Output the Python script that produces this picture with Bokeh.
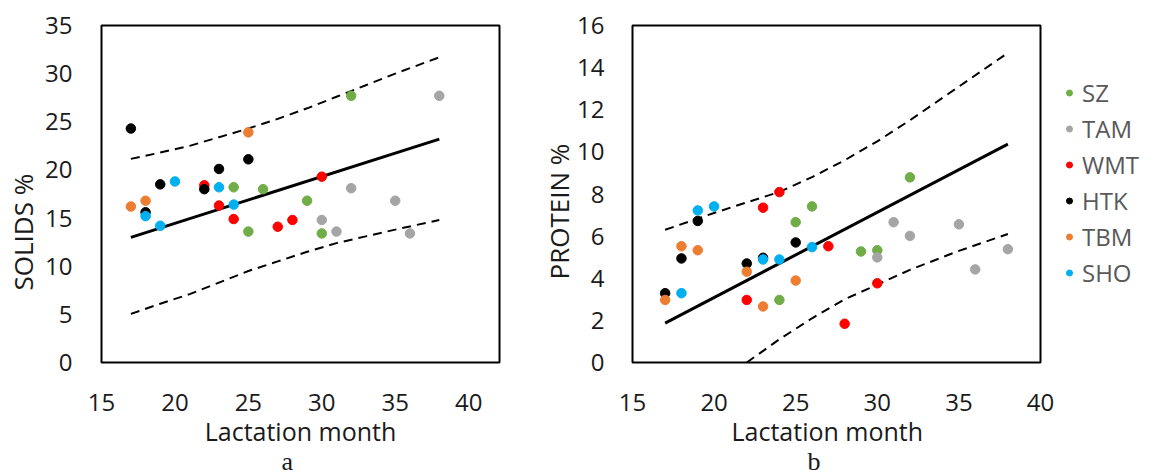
from bokeh.plotting import figure
from bokeh.layouts import row
from bokeh.models import Title, Legend, LegendItem, Range1d, FixedTicker, ColumnDataSource
from bokeh.embed import file_html
from bokeh.resources import INLINE

# ---------------- data ----------------
series = ["SZ", "TAM", "WMT", "HTK", "TBM", "SHO"]
series_colors = ["#70AD47", "#A5A5A5", "#FF0000", "#000000", "#ED7D31", "#00B0F0"]

month_ticks = [15, 20, 25, 30, 35, 40]
solids_ticks = [0, 5, 10, 15, 20, 25, 30, 35]
protein_ticks = [0, 2, 4, 6, 8, 10, 12, 14, 16]

# Panel a: SOLIDS %
months_a = {
    "SZ":  [24, 25, 26, 29, 30, 32],
    "TAM": [30, 31, 32, 35, 36, 38],
    "WMT": [22, 23, 24, 27, 28, 30],
    "HTK": [17, 18, 19, 22, 23, 25],
    "TBM": [17, 18, 25],
    "SHO": [18, 19, 20, 23, 24],
}
solids = {
    "SZ":  [18.2, 13.6, 18.0, 16.8, 13.4, 27.7],
    "TAM": [14.8, 13.6, 18.1, 16.8, 13.4, 27.7],
    "WMT": [18.4, 16.3, 14.9, 14.1, 14.8, 19.3],
    "HTK": [24.3, 15.6, 18.5, 18.0, 20.1, 21.1],
    "TBM": [16.2, 16.8, 23.9],
    "SHO": [15.2, 14.2, 18.8, 18.2, 16.4],
}
fit_x = [17, 38]
solids_fit = [13.0, 23.2]
band_x_a = [17, 19, 21, 23, 25, 27, 29, 31, 33, 35, 38]
solids_upper = [21.15, 21.8, 22.5, 23.4, 24.3, 25.3, 26.4, 27.6, 28.8, 30.0, 31.7]
solids_lower = [5.05, 6.1, 7.1, 8.3, 9.5, 10.5, 11.5, 12.4, 13.1, 13.8, 14.8]

# Panel b: PROTEIN %
months_b = {
    "SZ":  [24, 25, 26, 29, 30, 32],
    "TAM": [30, 31, 32, 35, 36, 38],
    "WMT": [22, 23, 24, 27, 28, 30],
    "HTK": [17, 18, 19, 22, 23, 25],
    "TBM": [17, 18, 19, 22, 23, 25],
    "SHO": [18, 19, 20, 23, 24, 26],
}
protein = {
    "SZ":  [2.97, 6.66, 7.41, 5.27, 5.33, 8.79],
    "TAM": [4.99, 6.66, 6.01, 6.56, 4.42, 5.38],
    "WMT": [2.97, 7.35, 8.09, 5.52, 1.84, 3.76],
    "HTK": [3.29, 4.94, 6.72, 4.70, 4.97, 5.70],
    "TBM": [2.97, 5.52, 5.33, 4.31, 2.66, 3.89],
    "SHO": [3.29, 7.22, 7.41, 4.89, 4.89, 5.48],
}
protein_fit = [1.87, 10.37]
upper_x_b = [17, 20, 22, 24, 26, 28, 30, 32, 35, 38]
protein_upper = [6.3, 7.1, 7.6, 8.1, 8.8, 9.6, 10.5, 11.5, 13.1, 14.7]
lower_x_b = [22, 24, 26, 28, 30, 32, 35, 38]
protein_lower = [0.0, 1.1, 2.1, 3.0, 3.7, 4.4, 5.3, 6.1]

FONT = "Open Sans"
TXT = "#1a1a1a"


def make_fig(width, xr, yr, yticks, mbl, mbr, mbt, mbb, ystandoff):
    p = figure(width=width, height=474, x_range=Range1d(*xr), y_range=Range1d(*yr),
               output_backend="svg", toolbar_location=None,
               min_border_left=mbl, min_border_right=mbr,
               min_border_top=mbt, min_border_bottom=mbb)
    p.xgrid.visible = False
    p.ygrid.visible = False
    p.outline_line_color = "black"
    p.outline_line_width = 2
    p.outline_line_alpha = 1
    p.background_fill_color = "white"
    p.border_fill_color = "white"
    for ax in (p.xaxis[0], p.yaxis[0]):
        ax.axis_line_color = None
        ax.major_tick_line_color = None
        ax.minor_tick_line_color = None
        ax.major_tick_in = 0
        ax.major_tick_out = 0
        ax.minor_tick_in = 0
        ax.minor_tick_out = 0
        ax.major_label_text_font = FONT
        ax.major_label_text_font_size = "24px"
        ax.major_label_text_color = TXT
    p.xaxis[0].ticker = FixedTicker(ticks=month_ticks)
    p.yaxis[0].ticker = FixedTicker(ticks=yticks)
    p.xaxis[0].major_label_standoff = 31
    p.yaxis[0].major_label_standoff = ystandoff
    return p


def add_titles(p, ytext, yoffset, ystandoff, xalign, xoffset, cap, capoffset):
    p.add_layout(Title(text=ytext, align="left", offset=yoffset, text_font=FONT,
                       text_font_size="26px", text_font_style="normal",
                       text_color=TXT, standoff=ystandoff), "left")
    p.add_layout(Title(text="Lactation month", align=xalign, offset=xoffset,
                       text_font=FONT, text_font_size="25px", text_font_style="normal",
                       text_color=TXT, standoff=-4), "below")
    p.add_layout(Title(text=cap, align="left", offset=capoffset,
                       text_font="Liberation Serif", text_font_size="26px",
                       text_font_style="normal", text_color=TXT, standoff=-2), "below")


# ---------------- panel a ----------------
pa = make_fig(540, (15, 42.1), (0, 35), solids_ticks, 101, 41, 25, 112, 29)
pa.line(fit_x, solids_fit, line_color="black", line_width=3)
pa.line(band_x_a, solids_upper, line_color="black", line_width=2, line_dash="9 6")
pa.line(band_x_a, solids_lower, line_color="black", line_width=2, line_dash="9 6")
for s, c in zip(series, series_colors):
    src = ColumnDataSource(dict(x=months_a[s], y=solids[s]))
    pa.scatter("x", "y", source=src, size=9.5, fill_color=c, line_color=c)
add_titles(pa, "SOLIDS %", 72, 4, "center", 0, "a", 180)

# ---------------- panel b ----------------
pb = make_fig(516, (15, 40), (0, 16), protein_ticks, 91, 16, 24, 111, 28)
pb.line(fit_x, protein_fit, line_color="black", line_width=3)
pb.line(upper_x_b, protein_upper, line_color="black", line_width=2, line_dash="9 6")
pb.line(lower_x_b, protein_lower, line_color="black", line_width=2, line_dash="9 6")
sources_b = {}
for s, c in zip(series, series_colors):
    sources_b[s] = ColumnDataSource(dict(x=months_b[s], y=protein[s]))
    pb.scatter("x", "y", source=sources_b[s], size=9.5, fill_color=c, line_color=c)
add_titles(pb, "PROTEIN %", 83, -4, "left", 99, "b", 175)

# ---------------- legend (its own narrow canvas to the right of panel b) ----------------
# the legend canvas shows no data area; its renderers reuse the panel-b sources
# (outside this canvas' ranges) only so that the legend can draw each swatch.
pl = figure(width=99, height=474, x_range=Range1d(0, 1), y_range=Range1d(0, 1),
            output_backend="svg", toolbar_location=None,
            x_axis_location=None, y_axis_location=None,
            min_border_left=0, min_border_right=0, min_border_top=24, min_border_bottom=111)
pl.xgrid.visible = False
pl.ygrid.visible = False
pl.outline_line_color = None
pl.background_fill_color = "white"
pl.border_fill_color = "white"
items = []
for s, c in zip(series, series_colors):
    r = pl.scatter("x", "y", source=sources_b[s], size=9.5, fill_color=c, line_color=c)
    items.append(LegendItem(label=s, renderers=[r]))
legend = Legend(items=items, location=(0, 73), margin=0, padding=0, spacing=3,
                glyph_width=26, glyph_height=15, label_standoff=0,
                label_text_font=FONT, label_text_font_size="24px",
                label_text_color="#595959", background_fill_alpha=0,
                border_line_alpha=0)
pl.add_layout(legend, "center")

layout = row(pa, pb, pl)
open("out.html", "w").write(file_html(layout, INLINE))
